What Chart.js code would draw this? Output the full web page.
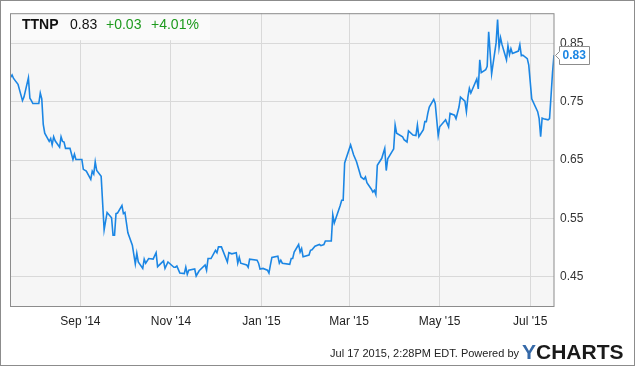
<!DOCTYPE html>
<html><head><meta charset="utf-8">
<script src="https://cdn.jsdelivr.net/npm/chart.js@4"></script>
<style>html,body{margin:0;padding:0;background:#fff;}#wrap{width:635px;height:366px;}</style>
</head><body><div id="wrap"><canvas id="c" width="635" height="366"></canvas></div>
<script>
// ---- data ----
const ticker = "TTNP";
const lastPrice = "0.83";
const changeAbs = "+0.03";
const changePct = "+4.01%";
const footerText = "Jul 17 2015, 2:28PM EDT. Powered by";
const rangeStart = "2014-07-16";
const rangeEnd = "2015-07-17";

const dates = [
"2014-07-16","2014-07-17","2014-07-18","2014-07-21","2014-07-24","2014-07-25","2014-07-28","2014-07-29","2014-07-30","2014-07-31",
"2014-08-04","2014-08-05","2014-08-06","2014-08-07","2014-08-08","2014-08-11","2014-08-12","2014-08-13","2014-08-14","2014-08-15",
"2014-08-18","2014-08-19","2014-08-20","2014-08-21","2014-08-22","2014-08-25","2014-08-27","2014-08-28","2014-08-29","2014-09-02",
"2014-09-03","2014-09-05","2014-09-08","2014-09-09","2014-09-10","2014-09-11","2014-09-12","2014-09-15","2014-09-17","2014-09-19",
"2014-09-22","2014-09-23","2014-09-24","2014-09-25","2014-09-26","2014-09-29","2014-09-30","2014-10-01","2014-10-03","2014-10-06",
"2014-10-08","2014-10-09","2014-10-10","2014-10-13","2014-10-14","2014-10-15","2014-10-17","2014-10-20","2014-10-22","2014-10-23",
"2014-10-27","2014-10-28","2014-10-30","2014-11-03","2014-11-04","2014-11-05","2014-11-07","2014-11-10","2014-11-11","2014-11-12",
"2014-11-13","2014-11-17","2014-11-18","2014-11-20","2014-11-24","2014-11-25","2014-11-26","2014-11-28","2014-12-01","2014-12-02",
"2014-12-03","2014-12-05","2014-12-09","2014-12-10","2014-12-12","2014-12-15","2014-12-16","2014-12-17","2014-12-18","2014-12-22",
"2014-12-23","2014-12-24","2014-12-29","2014-12-30","2014-12-31","2015-01-02","2015-01-05","2015-01-06","2015-01-07","2015-01-08",
"2015-01-12","2015-01-13","2015-01-14","2015-01-15","2015-01-20","2015-01-21","2015-01-22","2015-01-23","2015-01-26","2015-01-27",
"2015-01-28","2015-01-29","2015-02-02","2015-02-03","2015-02-04","2015-02-06","2015-02-09","2015-02-10","2015-02-12","2015-02-13",
"2015-02-17","2015-02-18","2015-02-19","2015-02-23","2015-02-24","2015-02-25","2015-02-26","2015-03-02","2015-03-04","2015-03-06",
"2015-03-09","2015-03-11","2015-03-12","2015-03-13","2015-03-16","2015-03-17","2015-03-18","2015-03-19","2015-03-20","2015-03-23",
"2015-03-25","2015-03-26","2015-03-27","2015-03-30","2015-03-31","2015-04-01","2015-04-02","2015-04-06","2015-04-07","2015-04-09",
"2015-04-10","2015-04-13","2015-04-15","2015-04-16","2015-04-17","2015-04-20","2015-04-21","2015-04-22","2015-04-23","2015-04-24",
"2015-04-27","2015-04-28","2015-04-30","2015-05-01","2015-05-04","2015-05-05","2015-05-06","2015-05-07","2015-05-08","2015-05-11",
"2015-05-12","2015-05-14","2015-05-15","2015-05-18","2015-05-19","2015-05-20","2015-05-21","2015-05-22","2015-05-26","2015-05-27",
"2015-05-28","2015-05-29","2015-06-01","2015-06-02","2015-06-03","2015-06-05","2015-06-08","2015-06-09","2015-06-10","2015-06-11",
"2015-06-12","2015-06-15","2015-06-16","2015-06-17","2015-06-18","2015-06-19","2015-06-23","2015-06-24","2015-06-25","2015-06-26",
"2015-06-29","2015-06-30","2015-07-02","2015-07-06","2015-07-07","2015-07-08","2015-07-09","2015-07-10","2015-07-13","2015-07-14",
"2015-07-15","2015-07-16","2015-07-17"
];
const prices = [
0.792,0.796,0.790,0.780,0.752,0.758,0.791,0.756,0.752,0.747,
0.747,0.765,0.755,0.711,0.696,0.682,0.687,0.676,0.690,0.683,
0.672,0.690,0.682,0.681,0.670,0.670,0.651,0.660,0.651,0.651,
0.634,0.631,0.617,0.631,0.626,0.647,0.632,0.622,0.530,0.560,
0.551,0.521,0.521,0.558,0.559,0.572,0.558,0.560,0.525,0.504,
0.472,0.490,0.475,0.464,0.480,0.473,0.481,0.480,0.491,0.467,
0.477,0.464,0.475,0.466,0.466,0.468,0.456,0.455,0.466,0.454,
0.461,0.463,0.451,0.460,0.470,0.461,0.481,0.481,0.495,0.491,
0.501,0.501,0.475,0.491,0.489,0.491,0.473,0.483,0.473,0.470,
0.466,0.480,0.478,0.473,0.463,0.464,0.461,0.456,0.470,0.483,
0.485,0.473,0.478,0.473,0.471,0.481,0.481,0.492,0.505,0.492,
0.498,0.484,0.487,0.495,0.496,0.502,0.505,0.503,0.505,0.511,
0.511,0.556,0.542,0.572,0.581,0.581,0.645,0.676,0.659,0.647,
0.621,0.617,0.621,0.611,0.600,0.595,0.598,0.591,0.641,0.653,
0.670,0.632,0.652,0.665,0.669,0.710,0.696,0.690,0.685,0.681,
0.700,0.693,0.692,0.710,0.690,0.702,0.716,0.716,0.730,0.741,
0.754,0.747,0.692,0.707,0.716,0.719,0.713,0.707,0.730,0.727,
0.721,0.741,0.758,0.751,0.733,0.758,0.773,0.765,0.789,0.772,
0.822,0.800,0.805,0.811,0.870,0.798,0.851,0.891,0.843,0.860,
0.848,0.822,0.846,0.831,0.841,0.833,0.837,0.848,0.829,0.830,
0.824,0.813,0.755,0.733,0.721,0.690,0.722,0.721,0.719,0.721,
0.760,0.800,0.830
];
const xTickDates = ["2014-09-01","2014-11-01","2015-01-01","2015-03-01","2015-05-01","2015-07-01"];
const xTickLabels = ["Sep '14","Nov '14","Jan '15","Mar '15","May '15","Jul '15"];
const yTicks = [0.45, 0.55, 0.65, 0.75, 0.85];
const yMin = 0.3995, yMax = 0.902;

// ---- chart ----
const FONT = "'Liberation Sans', Arial, sans-serif";
const toDay = s => Date.UTC(+s.slice(0,4), +s.slice(5,7)-1, +s.slice(8,10)) / 864e5;
const points = dates.map((d,i) => ({x: toDay(d), y: prices[i]}));

const decor = {
  id: 'decor',
  beforeDraw(chart) {
    const {ctx, chartArea: a} = chart;
    ctx.save();
    ctx.fillStyle = '#ffffff';
    ctx.fillRect(0, 0, chart.width, chart.height);
    ctx.fillStyle = '#f6f6f6';
    ctx.fillRect(a.left, a.top, a.right - a.left, a.bottom - a.top);
    ctx.restore();
  },
  beforeDatasetsDraw(chart) {
    const {ctx, chartArea: a} = chart;
    ctx.save();
    ctx.fillStyle = '#fafafa';
    ctx.fillRect(a.left, a.top, 200, 27);
    ctx.textBaseline = 'alphabetic';
    ctx.fillStyle = '#111';
    ctx.font = 'bold 14px ' + FONT;
    ctx.fillText(ticker, 22, 29);
    ctx.font = '14px ' + FONT;
    ctx.fillText(lastPrice, 70, 29);
    ctx.fillStyle = '#1d9a1d';
    ctx.fillText(changeAbs, 106, 29);
    ctx.fillText(changePct, 151, 29);
    ctx.restore();
  },
  afterDraw(chart) {
    const {ctx, chartArea: a} = chart;
    const ys = chart.scales.y;
    ctx.save();
    // plot frame
    ctx.strokeStyle = '#8c8c8c';
    ctx.lineWidth = 1;
    ctx.strokeRect(a.left + 0.5, a.top + 0.5, a.right - a.left - 0.5, a.bottom - a.top);
    // outer frame
    ctx.strokeStyle = '#8c8c8c';
    ctx.strokeRect(0.5, 0.5, chart.width - 1, chart.height - 1);
    // last value callout
    const yv = Math.round(ys.getPixelForValue(prices[prices.length - 1])) + 0.5;
    const L = a.right + 5.5, R = L + 30, T = yv - 9, B = yv + 9;
    ctx.beginPath();
    ctx.moveTo(L, T); ctx.lineTo(R, T); ctx.lineTo(R, B); ctx.lineTo(L, B);
    ctx.lineTo(L, yv + 4); ctx.lineTo(L - 4, yv); ctx.lineTo(L, yv - 4); ctx.closePath();
    ctx.fillStyle = '#fff'; ctx.fill();
    ctx.strokeStyle = '#8c8c8c'; ctx.stroke();
    ctx.fillStyle = '#1b86e4';
    ctx.font = 'bold 12px ' + FONT;
    ctx.textBaseline = 'middle';
    ctx.fillText(lastPrice, L + 3, yv);
    // footer
    ctx.fillStyle = '#222';
    ctx.font = '11px ' + FONT;
    ctx.textAlign = 'right';
    ctx.textBaseline = 'alphabetic';
    ctx.fillText(footerText, 519, 357);
    ctx.textAlign = 'left';
    ctx.font = 'bold 21px ' + FONT;
    ctx.fillStyle = '#3569a8';
    ctx.fillText('Y', 522, 359);
    const w = ctx.measureText('Y').width;
    ctx.fillStyle = '#1a1a1a';
    ctx.fillText('CHARTS', 522 + w, 359);
    ctx.restore();
  }
};

new Chart(document.getElementById('c'), {
  type: 'line',
  data: { datasets: [{ data: points, borderColor: '#1b86e4', borderWidth: 1.6, pointRadius: 0, tension: 0, fill: false }] },
  options: {
    responsive: false, animation: false, devicePixelRatio: 1,
    layout: { padding: { left: 10, top: 10, right: 0, bottom: 0 } },
    plugins: { legend: { display: false }, tooltip: { enabled: false } },
    scales: {
      x: {
        type: 'linear', min: toDay(rangeStart) - 0.4, max: toDay(rangeEnd),
        afterBuildTicks: s => { s.ticks = xTickDates.map(d => ({ value: toDay(d) })); },
        afterFit: s => { s.height = 60; },
        grid: { color: '#d9d9d9', drawTicks: false, lineWidth: 1 },
        border: { display: false },
        ticks: { padding: 8, color: '#222', font: { family: FONT, size: 12 }, maxRotation: 0, autoSkip: false,
          callback: (v, i) => xTickLabels[i] }
      },
      y: {
        position: 'right', min: yMin, max: yMax,
        afterBuildTicks: s => { s.ticks = yTicks.map(v => ({ value: v })); },
        afterFit: s => { s.width = 81; },
        grid: { color: '#d9d9d9', drawTicks: false, lineWidth: 1 },
        border: { display: false },
        ticks: { padding: 6, color: '#333', font: { family: FONT, size: 12 },
          callback: v => v.toFixed(2) }
      }
    }
  },
  plugins: [decor]
});
</script>
</body></html>
